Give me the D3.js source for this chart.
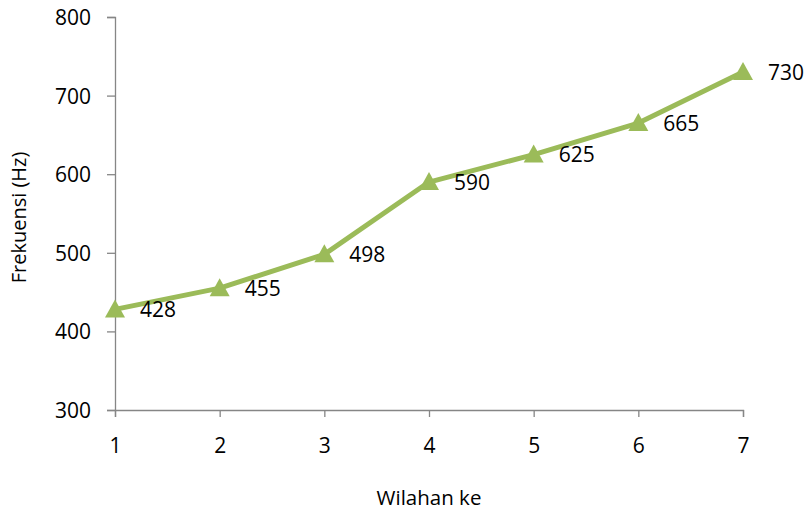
<!DOCTYPE html>
<html>
<head>
<meta charset="utf-8">
<script src="https://cdn.jsdelivr.net/npm/d3@7"></script>
<style>
  html, body { margin: 0; padding: 0; background: #fff; }
  svg text { font-family: "Open Sans", "Noto Sans", sans-serif; fill: #000; }
</style>
</head>
<body>
<svg id="chart" width="807" height="512"></svg>
<script>
// Frekuensi tiap wilahan
const wilahan = [1, 2, 3, 4, 5, 6, 7];
const frekuensi = [428, 455, 498, 590, 625, 665, 730];
const yTicks = [300, 400, 500, 600, 700, 800];

const svg = d3.select("#chart");
const margin = { left: 115, right: 64, top: 17, bottom: 102 };
const W = 807, H = 512;

const x = d3.scaleLinear().domain([1, 7]).range([margin.left, W - margin.right]);
const y = d3.scaleLinear().domain([300, 800]).range([H - margin.bottom, margin.top]);

const axisColor = "#868686";
const green = "#9BBB59";
const labelSize = 21;

// Y axis
const yAxis = svg.append("g")
  .attr("transform", `translate(${margin.left},0)`)
  .call(d3.axisLeft(y).tickValues(yTicks).tickSize(8).tickPadding(16).tickFormat(d3.format("d")));
// X axis
const xAxis = svg.append("g")
  .attr("transform", `translate(0,${y(300)})`)
  .call(d3.axisBottom(x).tickValues(wilahan).tickSize(7).tickPadding(21).tickFormat(d3.format("d")));

[yAxis, xAxis].forEach(g => {
  g.select(".domain").attr("stroke", axisColor).attr("stroke-width", 1.3);
  g.selectAll(".tick line").attr("stroke", axisColor).attr("stroke-width", 1.3);
  g.selectAll(".tick text").attr("font-size", labelSize).attr("font-family", "'Open Sans', sans-serif").attr("fill", "#000");
});
yAxis.selectAll(".tick text").attr("dy", "0.36em");
xAxis.selectAll(".tick text").attr("dy", "0.71em");

// Axis titles
svg.append("text")
  .attr("transform", `translate(26,${(y(300) + y(800)) / 2 + 4}) rotate(-90)`)
  .attr("text-anchor", "middle")
  .attr("font-size", 20)
  .text("Frekuensi (Hz)");

svg.append("text")
  .attr("x", x(4))
  .attr("y", 505)
  .attr("text-anchor", "middle")
  .attr("font-size", 20.5)
  .text("Wilahan ke");

const data = wilahan.map((w, i) => ({ w, f: frekuensi[i] }));

// Series line
svg.append("path")
  .datum(data)
  .attr("fill", "none")
  .attr("stroke", green)
  .attr("stroke-width", 5)
  .attr("stroke-linejoin", "round")
  .attr("d", d3.line().x(d => x(d.w)).y(d => y(d.f)));

// Triangle markers
const tw = 20, th = 18;
svg.append("g").selectAll("path")
  .data(data)
  .join("path")
  .attr("fill", green)
  .attr("d", d => {
    const cx = x(d.w), cy = y(d.f) - 1;
    return `M${cx},${cy - th / 2}L${cx + tw / 2},${cy + th / 2}L${cx - tw / 2},${cy + th / 2}Z`;
  });

// Data labels
svg.append("g").selectAll("text")
  .data(data)
  .join("text")
  .attr("x", d => x(d.w) + 25)
  .attr("y", d => y(d.f))
  .attr("dy", "0.36em")
  .attr("font-size", labelSize)
  .text(d => d.f);
</script>
</body>
</html>
